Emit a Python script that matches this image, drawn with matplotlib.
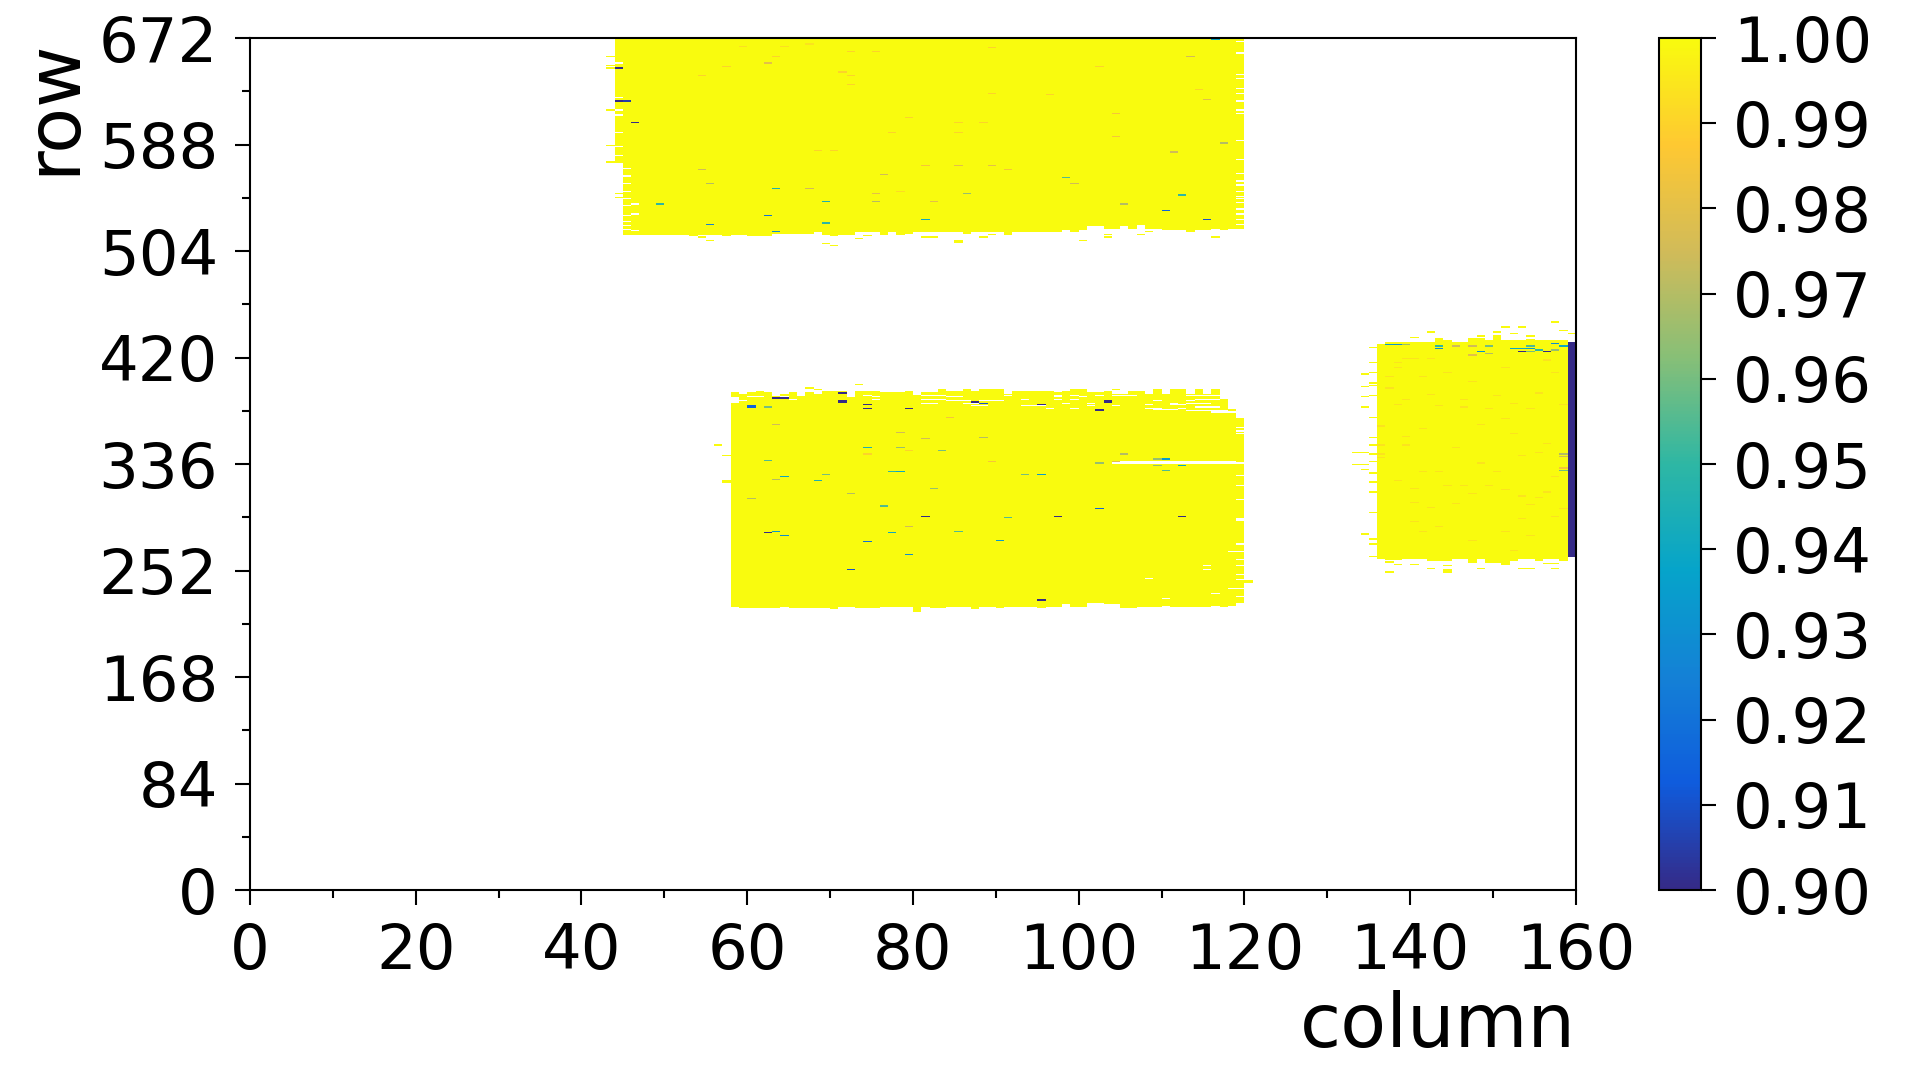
import numpy as np
import matplotlib.pyplot as plt
from matplotlib.colors import LinearSegmentedColormap

n_rows = 672
n_cols = 160

# parula-like colours for the colour bar
parula = ['#352a87', '#0f5cdd', '#1481d6', '#06a4ca', '#2eb7a4',
          '#87bf77', '#d1bb59', '#fec832', '#f9fb0e']

x_ticks = [0, 20, 40, 60, 80, 100, 120, 140, 160]
y_ticks = [0, 84, 168, 252, 336, 420, 504, 588, 672]
cbar_ticks = [0.90, 0.91, 0.92, 0.93, 0.94, 0.95, 0.96, 0.97, 0.98, 0.99, 1.00]

# region A (top): columns 44..119, lowest filled row per column, up to row 671
a_col0 = 44
a_bottom = [573, 516, 516, 516, 516, 516, 516, 516, 516, 515, 516, 516, 516, 515,
            516, 516, 515, 515, 515, 517, 517, 517, 517, 517, 518, 516, 515, 516,
            516, 518, 518, 518, 516, 518, 516, 517, 518, 518, 518, 518, 518, 518,
            517, 518, 518, 518, 518, 516, 518, 518, 518, 518, 518, 518, 520, 518,
            520, 523, 523, 521, 521, 523, 521, 524, 521, 521, 520, 520, 520, 518,
            520, 520, 521, 520, 521, 521]
a_top = 671

# region B (middle): columns 58..119
b_col0 = 58
b_bottom = [223, 222, 222, 222, 222, 222, 223, 222, 222, 222, 222, 222, 221, 223,
            223, 222, 222, 222, 223, 223, 223, 223, 219, 223, 222, 222, 223, 223,
            223, 221, 223, 223, 222, 223, 223, 223, 223, 222, 223, 223, 225, 223,
            223, 226, 226, 225, 225, 222, 222, 223, 223, 223, 224, 223, 223, 223,
            223, 223, 224, 223, 224, 226]
b_top = [391, 390, 391, 392, 391, 388, 390, 391, 388, 391, 390, 392, 392, 392,
         387, 392, 392, 392, 391, 391, 391, 392, 389, 391, 391, 394, 392, 392,
         394, 392, 394, 394, 394, 390, 392, 392, 392, 392, 392, 391, 392, 394,
         394, 391, 391, 392, 390, 390, 392, 392, 390, 394, 390, 394, 394, 390,
         394, 390, 394, 386, 378, 371]

# region C (right): columns 136..159
c_col0 = 136
c_bottom = [261, 260, 260, 261, 261, 261, 259, 259, 259, 261, 261, 258, 261, 258,
            258, 257, 259, 261, 261, 259, 261, 261, 259, 262]
c_top = [429, 431, 431, 431, 431, 431, 431, 434, 432, 431, 431, 434, 434, 432,
         436, 432, 432, 432, 433, 432, 432, 432, 432, 431]
c_dark_col = 159
c_dark_rows = (262, 431)
c_dark_value = 0.90

# isolated filled cells outside the main areas (col, row)
strays = [(43, 656), (43, 649), (43, 647), (43, 614), (43, 586), (43, 573),
          (44, 548), (44, 545), (54, 514), (55, 511), (69, 509), (70, 507),
          (73, 513), (74, 515), (81, 514), (82, 514), (85, 510), (85, 511),
          (88, 514), (89, 516), (100, 511), (103, 516), (103, 514), (107, 516),
          (108, 518), (116, 514),
          (67, 395), (68, 394), (73, 398), (104, 394), (56, 350), (57, 342),
          (57, 322), (57, 321), (120, 243), (120, 242),
          (135, 427), (135, 415), (135, 407), (135, 399), (135, 397), (135, 389),
          (135, 372), (135, 356), (135, 350), (135, 343), (135, 337), (135, 328),
          (135, 321), (135, 313), (135, 297), (135, 276), (135, 272), (135, 262),
          (134, 406), (134, 396), (134, 388), (134, 380), (134, 344), (134, 335),
          (134, 331), (134, 280), (133, 344), (133, 335),
          (140, 435), (142, 439), (148, 436), (150, 439), (151, 443), (152, 438),
          (153, 443), (154, 436), (157, 447), (158, 440), (159, 438),
          (137, 258), (137, 250), (138, 256), (140, 256), (142, 253), (144, 250),
          (144, 251), (144, 252), (144, 255), (148, 253), (151, 256), (151, 257),
          (153, 253), (154, 253), (156, 257), (157, 257), (157, 253)]

# empty row pieces inside the areas (first col, last col, row)
holes = [(44, 44, 651), (44, 44, 624), (44, 44, 614), (44, 44, 610), (44, 44, 596),
         (44, 44, 585), (44, 44, 578), (45, 45, 568), (45, 45, 562), (45, 45, 556),
         (45, 45, 550), (45, 45, 544), (45, 45, 539), (45, 45, 531), (45, 45, 526),
         (45, 45, 523), (45, 45, 520), (46, 46, 540), (46, 46, 532), (46, 46, 519),
         (119, 119, 668), (119, 119, 659), (119, 119, 642), (119, 119, 639),
         (119, 119, 631), (119, 119, 627), (119, 119, 621), (119, 119, 614),
         (119, 119, 611), (119, 119, 590), (119, 119, 575), (119, 119, 564),
         (119, 119, 558), (119, 119, 555), (119, 119, 550), (119, 119, 546),
         (119, 119, 544), (119, 119, 541), (119, 119, 536), (119, 119, 532),
         (119, 119, 528), (119, 119, 524),
         (58, 58, 387), (58, 58, 386), (58, 58, 385), (58, 58, 384), (59, 59, 385),
         (74, 74, 389), (81, 83, 389), (91, 91, 389), (97, 97, 389), (99, 99, 389),
         (102, 102, 389), (104, 106, 389), (113, 116, 389),
         (60, 61, 388), (64, 64, 388), (75, 75, 388), (84, 85, 388), (97, 97, 388),
         (100, 100, 388),
         (65, 65, 386), (75, 75, 386), (93, 93, 386), (97, 97, 386), (99, 99, 386),
         (81, 83, 386), (114, 116, 386),
         (84, 86, 385), (88, 90, 385), (109, 109, 385), (113, 113, 385),
         (81, 82, 383), (86, 87, 383), (98, 98, 383), (101, 101, 383), (111, 111, 383),
         (113, 115, 383), (108, 108, 382), (111, 112, 382),
         (87, 88, 381), (93, 95, 381), (101, 101, 381), (104, 104, 381),
         (114, 116, 380), (96, 96, 379), (99, 99, 379), (108, 109, 379), (112, 112, 379),
         (109, 111, 378), (113, 117, 377), (116, 118, 376),
         (105, 118, 337), (104, 119, 336),
         (119, 119, 364), (119, 119, 361), (119, 119, 359), (119, 119, 326),
         (119, 119, 318), (119, 119, 307), (119, 119, 292), (119, 119, 291),
         (119, 119, 272), (119, 119, 266), (119, 119, 260), (119, 119, 255),
         (119, 119, 248), (119, 119, 244), (119, 119, 237), (119, 119, 231),
         (118, 118, 266), (118, 118, 237), (115, 115, 255), (115, 115, 252),
         (108, 108, 245), (116, 116, 233), (110, 110, 229)]

# cells below 1.0 (col, row, value)
a_low = [(59, 664, 0.993), (64, 664, 0.993), (67, 666, 0.994), (72, 660, 0.99),
         (75, 660, 0.99), (63, 656, 0.99), (57, 648, 0.99), (62, 651, 0.98),
         (54, 641, 0.99), (71, 644, 0.99), (72, 641, 0.99), (72, 634, 0.99),
         (89, 663, 0.99), (102, 648, 0.99), (113, 656, 0.975), (114, 630, 0.99),
         (115, 622, 0.98), (117, 588, 0.97), (104, 593, 0.985), (104, 611, 0.985),
         (96, 626, 0.99), (89, 627, 0.99), (79, 608, 0.99), (85, 604, 0.99),
         (88, 604, 0.99), (77, 596, 0.99), (85, 596, 0.99), (68, 582, 0.99),
         (70, 582, 0.99), (111, 581, 0.975), (54, 567, 0.975), (81, 570, 0.985),
         (85, 570, 0.98), (89, 570, 0.98), (91, 567, 0.985), (76, 563, 0.975),
         (55, 556, 0.97), (63, 552, 0.945), (67, 552, 0.975), (99, 556, 0.975),
         (86, 548, 0.965), (75, 548, 0.98), (78, 550, 0.992), (98, 561, 0.955),
         (112, 547, 0.95), (49, 540, 0.95), (69, 542, 0.945), (69, 525, 0.95),
         (62, 531, 0.92), (55, 524, 0.925), (63, 518, 0.93), (81, 528, 0.94),
         (110, 535, 0.915), (115, 528, 0.91), (105, 540, 0.97), (75, 542, 0.97),
         (82, 542, 0.98), (116, 670, 0.94),
         (44, 647, 0.90), (44, 621, 0.90), (45, 621, 0.905), (46, 604, 0.90)]

b_low = [(60, 381, 0.915), (60, 380, 0.915), (62, 380, 0.96), (63, 366, 0.975),
         (62, 338, 0.955), (63, 323, 0.97), (64, 325, 0.94), (68, 322, 0.945),
         (69, 327, 0.96), (60, 308, 0.97), (62, 281, 0.90), (63, 282, 0.935),
         (64, 279, 0.93), (72, 312, 0.97), (74, 348, 0.945), (74, 343, 0.99),
         (74, 274, 0.92), (72, 252, 0.91), (76, 302, 0.955), (77, 329, 0.95),
         (78, 329, 0.94), (78, 360, 0.975), (78, 348, 0.965), (79, 346, 0.99),
         (77, 281, 0.94), (79, 286, 0.975), (79, 264, 0.93), (81, 355, 0.975),
         (81, 294, 0.90), (82, 316, 0.965), (83, 346, 0.96), (84, 372, 0.985),
         (85, 282, 0.955), (88, 356, 0.97), (89, 337, 0.985), (90, 275, 0.935),
         (91, 293, 0.955), (93, 327, 0.96), (95, 327, 0.935), (97, 294, 0.90),
         (95, 228, 0.90), (102, 378, 0.90), (102, 377, 0.90), (102, 336, 0.965),
         (102, 300, 0.915), (104, 337, 0.98), (105, 343, 0.97), (109, 339, 0.965),
         (109, 334, 0.965), (110, 339, 0.935), (110, 330, 0.955), (112, 334, 0.94),
         (112, 294, 0.90), (63, 387, 0.90), (64, 387, 0.90), (71, 391, 0.90),
         (71, 385, 0.90), (71, 384, 0.90), (74, 382, 0.90), (74, 379, 0.90),
         (79, 379, 0.90), (87, 384, 0.90), (88, 383, 0.91), (95, 382, 0.90),
         (103, 385, 0.90), (103, 384, 0.90)]

c_low = [(137, 429, 0.935), (138, 429, 0.93), (139, 429, 0.965), (143, 428, 0.95),
         (143, 426, 0.93), (145, 428, 0.975), (147, 428, 0.975), (147, 421, 0.98),
         (148, 424, 0.93), (149, 428, 0.96), (149, 422, 0.97), (152, 426, 0.94),
         (153, 426, 0.94), (153, 424, 0.90), (154, 428, 0.955), (154, 426, 0.935),
         (154, 424, 0.96), (155, 425, 0.95), (156, 424, 0.90), (157, 430, 0.93),
         (157, 425, 0.965), (158, 428, 0.94), (158, 343, 0.97), (158, 341, 0.975),
         (158, 332, 0.985), (158, 330, 0.96),
         (139, 418, 0.994), (139, 386, 0.994), (139, 357, 0.994), (139, 350, 0.994),
         (137, 404, 0.994), (137, 395, 0.994), (138, 415, 0.994), (138, 411, 0.994),
         (138, 382, 0.994), (138, 322, 0.994), (136, 365, 0.994), (136, 350, 0.994),
         (136, 343, 0.994), (136, 340, 0.994), (140, 418, 0.994), (140, 316, 0.994),
         (140, 305, 0.994), (140, 290, 0.994), (141, 404, 0.994), (141, 363, 0.994),
         (141, 329, 0.994), (141, 282, 0.994), (142, 418, 0.994), (142, 390, 0.994),
         (142, 301, 0.994), (143, 381, 0.994), (143, 329, 0.994), (143, 286, 0.994),
         (144, 407, 0.994), (144, 318, 0.994), (145, 348, 0.994), (145, 304, 0.994),
         (146, 386, 0.994), (146, 380, 0.994), (146, 318, 0.994), (147, 400, 0.994),
         (147, 312, 0.994), (147, 275, 0.994), (148, 366, 0.994), (148, 336, 0.994),
         (149, 379, 0.994), (149, 318, 0.994), (150, 389, 0.994), (150, 329, 0.994),
         (151, 411, 0.994), (151, 371, 0.994), (151, 315, 0.994), (151, 282, 0.994),
         (152, 383, 0.994), (152, 359, 0.994), (152, 267, 0.994), (153, 342, 0.994),
         (153, 310, 0.994), (153, 292, 0.994), (154, 379, 0.994), (154, 303, 0.994),
         (154, 279, 0.994), (155, 391, 0.994), (155, 344, 0.994), (155, 309, 0.994),
         (156, 417, 0.994), (156, 351, 0.994), (156, 313, 0.994), (157, 407, 0.994),
         (157, 325, 0.994), (157, 294, 0.994), (158, 382, 0.994), (158, 300, 0.994)]

# build the grid
grid = np.full((n_rows, n_cols), np.nan)
for i, lo in enumerate(a_bottom):
    grid[lo:a_top + 1, a_col0 + i] = 1.0
for i, (lo, hi) in enumerate(zip(b_bottom, b_top)):
    grid[lo:hi + 1, b_col0 + i] = 1.0
for i, (lo, hi) in enumerate(zip(c_bottom, c_top)):
    grid[lo:hi + 1, c_col0 + i] = 1.0
for c, r in strays:
    grid[r, c] = 1.0
for c0, c1, r in holes:
    grid[r, c0:c1 + 1] = np.nan
grid[c_dark_rows[0]:c_dark_rows[1] + 1, c_dark_col] = c_dark_value
for c, r, v in a_low + b_low + c_low:
    grid[r, c] = v

cmap = LinearSegmentedColormap.from_list('parula', parula)

plt.rcParams['font.family'] = 'DejaVu Sans'
fig = plt.figure(figsize=(19.2, 10.8), dpi=100)
ax = fig.add_axes([0.1302, 0.1759, 0.6906, 0.7889])
cax = fig.add_axes([0.8641, 0.1759, 0.0217, 0.7889])

im = ax.imshow(grid, cmap=cmap, vmin=0.9, vmax=1.0, origin='lower', aspect='auto',
               interpolation='nearest', extent=(0, n_cols, 0, n_rows))
ax.set_xlim(0, n_cols)
ax.set_ylim(0, n_rows)
ax.set_xticks(x_ticks)
ax.set_yticks(y_ticks)
ax.set_xticks(np.arange(0, n_cols + 1, 10), minor=True)
ax.set_yticks(np.arange(0, n_rows + 1, 42), minor=True)
ax.tick_params(which='major', length=11, width=1.5, labelsize=45, pad=12)
ax.tick_params(which='minor', length=6, width=1.5)
for s in ax.spines.values():
    s.set_linewidth(1.5)
ax.set_xlabel('column', fontsize=54, loc='right', labelpad=6)
ax.set_ylabel('row', fontsize=54, loc='top', labelpad=6)

cb = fig.colorbar(im, cax=cax, ticks=cbar_ticks)
cb.ax.set_yticklabels(['%.2f' % t for t in cbar_ticks])
cb.ax.tick_params(length=11, width=1.5, labelsize=45, pad=12)
cb.outline.set_linewidth(1.5)

fig.savefig('out.png', dpi=100)
